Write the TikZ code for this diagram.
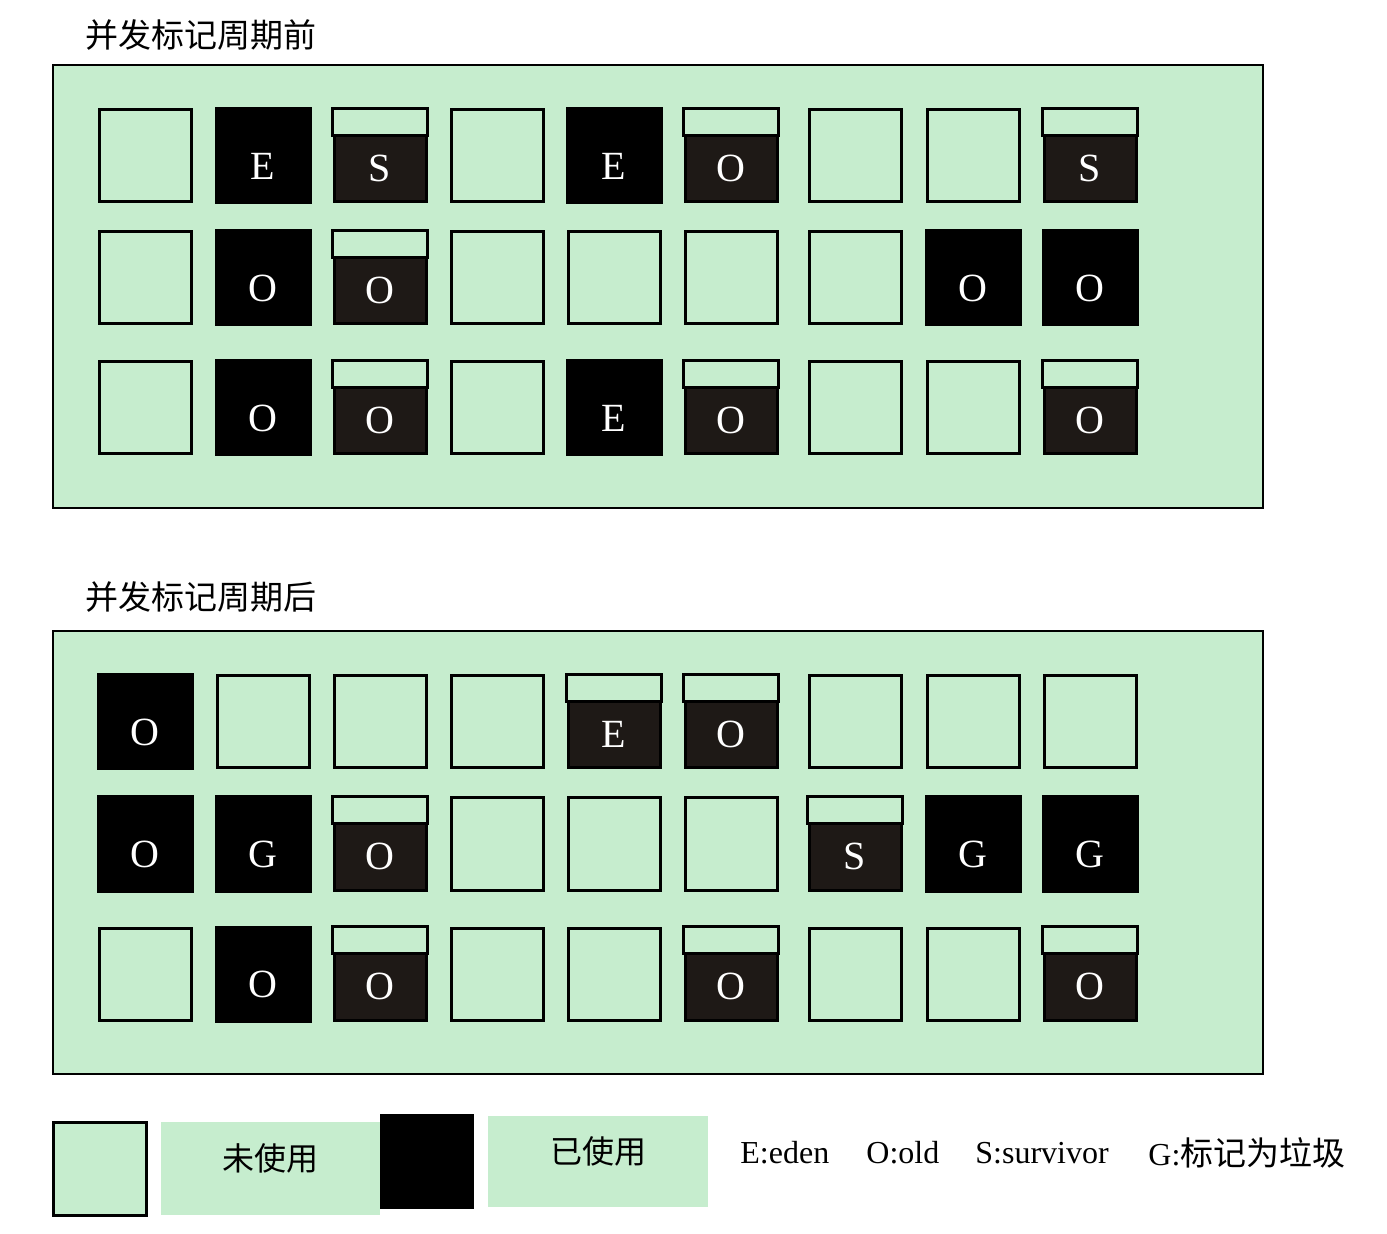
\documentclass[tikz,border=0pt]{standalone}
\usepackage{fontspec}
\setmainfont{Liberation Serif}
\newfontfamily\cjk{Noto Sans CJK SC}
\usetikzlibrary{positioning}
\definecolor{heapgreen}{RGB}{198,237,206}
\definecolor{usedgray}{RGB}{30,25,22}
\tikzset{
  panelbox/.style={draw=black, line width=1.2pt, fill=heapgreen},
  freecell/.style={draw=black, line width=1.5pt, fill=heapgreen, minimum size=46pt, inner sep=0pt},
  fullcell/.style={draw=black, line width=1.5pt, fill=black, minimum size=47pt, inner sep=0pt},
  partcell/.style={draw=black, line width=1.5pt, fill=usedgray, minimum size=46pt, inner sep=0pt},
  letter/.style={text=white, inner sep=0pt, font=\fontsize{20}{20}\selectfont},
  title/.style={anchor=west, inner sep=0pt, font=\cjk\fontsize{16.5}{18}\selectfont},
  keytext/.style={anchor=west, inner sep=0pt, font=\fontsize{16}{18}\selectfont},
}
\begin{document}
\begin{tikzpicture}[x=0.5pt,y=-0.5pt]
\useasboundingbox (0,0) rectangle (1387,1234);
\def\colx{{145,263,380,497,614,731,855,973,1090}}
\def\rowy{{156,278,408}}

% panels (0 = before, 1 = after)
\node[title] (before) at (85,35) {并发标记周期前};
\node[title] (after) at (85,597) {并发标记周期后};
\draw[panelbox] (53,65) rectangle (1263,508);
\draw[panelbox] (53,631) rectangle (1263,1074);

% free regions
\foreach \p/\c/\r in {0/1/1,0/4/1,0/7/1,0/8/1,0/1/2,0/4/2,0/5/2,0/6/2,0/7/2,0/1/3,0/4/3,0/7/3,0/8/3,
                      1/2/1,1/3/1,1/4/1,1/7/1,1/8/1,1/9/1,1/4/2,1/5/2,1/6/2,1/1/3,1/4/3,1/5/3,1/7/3,1/8/3} {
  \pgfmathsetmacro\cx{\colx[\c-1]}
  \pgfmathsetmacro\cy{\rowy[\r-1]+566*\p}
  \node[freecell] (p\p-\r-\c) at (\cx,\cy) {};
}

% fully used regions
\foreach \p/\c/\r/\l in {0/2/1/E,0/5/1/E,0/2/2/O,0/8/2/O,0/9/2/O,0/2/3/O,0/5/3/E,
                         1/1/1/O,1/1/2/O,1/2/2/G,1/8/2/G,1/9/2/G,1/2/3/O} {
  \pgfmathsetmacro\cx{\colx[\c-1]}
  \pgfmathsetmacro\cy{\rowy[\r-1]+566*\p}
  \node[fullcell] (p\p-\r-\c) at (\cx,\cy) {};
  \node[letter] (p\p-\r-\c-t) at ([yshift=-5pt]p\p-\r-\c.center) {\l};
}

% partly used regions
\foreach \p/\c/\r/\l in {0/3/1/S,0/6/1/O,0/9/1/S,0/3/2/O,0/3/3/O,0/6/3/O,0/9/3/O,
                         1/5/1/E,1/6/1/O,1/3/2/O,1/7/2/S,1/3/3/O,1/6/3/O,1/9/3/O} {
  \pgfmathsetmacro\cx{\colx[\c-1]}
  \pgfmathsetmacro\cy{\rowy[\r-1]+566*\p}
  \node[partcell] (p\p-\r-\c) at (\cx,\cy) {};
  \draw[line width=1.5pt, fill=heapgreen] (p\p-\r-\c.north west) rectangle ([yshift=-13.5pt]p\p-\r-\c.north east);
  \node[letter] (p\p-\r-\c-t) at ([yshift=-6pt]p\p-\r-\c.center) {\l};
}

% legend
\node[freecell, minimum width=46.5pt, minimum height=46.5pt] (keyfree) at (99.5,1168.5) {};
\node[fill=heapgreen, minimum width=109.5pt, minimum height=46.5pt, inner sep=0pt] (keyfreebox) at (270.5,1168.5) {};
\node[inner sep=0pt, font=\cjk\fontsize{16}{18}\selectfont] (keyfreetext) at ([yshift=5pt]keyfreebox.center) {未使用};
\node[fill=black, minimum width=47pt, minimum height=47.5pt, inner sep=0pt] (keyused) at (427,1161.5) {};
\node[fill=heapgreen, minimum width=110pt, minimum height=45.5pt, inner sep=0pt] (keyusedbox) at (598,1161.5) {};
\node[inner sep=0pt, font=\cjk\fontsize{16}{18}\selectfont] (keyusedtext) at ([yshift=5pt]keyusedbox.center) {已使用};
\node[keytext] (keyeden) at (740,1153) {E:eden};
\node[keytext] (keyold) at (866,1153) {O:old};
\node[keytext] (keysurv) at (975,1153) {S:survivor};
\node[keytext] (keygarb) at (1148,1153) {G:{\cjk\fontsize{16.5}{18}\selectfont 标记为垃圾}};
\end{tikzpicture}
\end{document}
